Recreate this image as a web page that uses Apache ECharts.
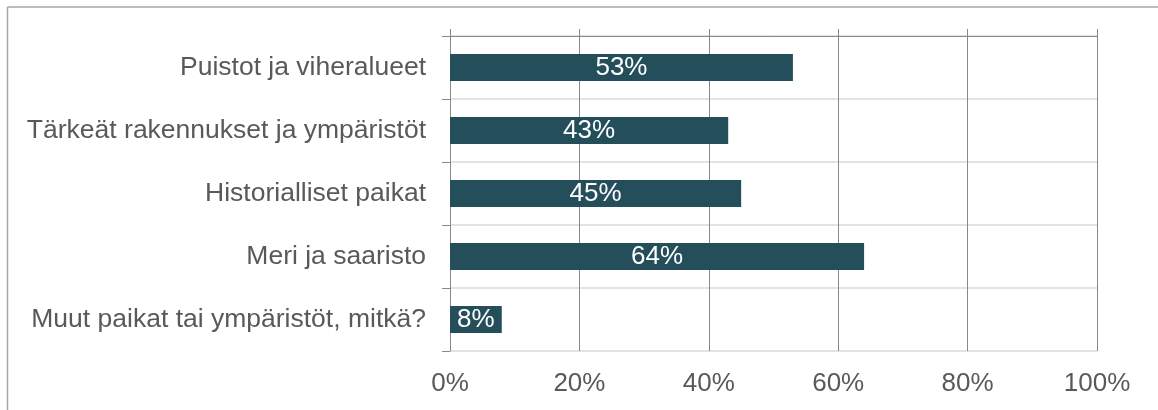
<!DOCTYPE html>
<html>
<head>
<meta charset="utf-8">
<script src="https://cdn.jsdelivr.net/npm/echarts@6/dist/echarts.min.js"></script>
<style>
html,body{margin:0;padding:0;background:#fff;}
#chart{width:1158px;height:410px;}
</style>
</head>
<body>
<div id="chart"></div>
<script>
const categories = [
  "Puistot ja viheralueet",
  "Tärkeät rakennukset ja ympäristöt",
  "Historialliset paikat",
  "Meri ja saaristo",
  "Muut paikat tai ympäristöt, mitkä?"
];
const values = [53, 43, 45, 64, 8];
const xTicks = [0, 20, 40, 60, 80, 100];

const FONT = '"Liberation Sans", Arial, sans-serif';
const chart = echarts.init(document.getElementById('chart'), null, {renderer: 'canvas'});
chart.setOption({
  animation: false,
  textStyle: {fontFamily: FONT},
  graphic: [
    {type: 'line', shape: {x1: 7.5, y1: 7, x2: 1158, y2: 7}, style: {stroke: '#a6a6a6', lineWidth: 1.5}, silent: true},
    {type: 'line', shape: {x1: 7.5, y1: 7, x2: 7.5, y2: 410}, style: {stroke: '#a6a6a6', lineWidth: 1.5}, silent: true}
  ],
  grid: {left: 450, right: 61, top: 36, bottom: 59, containLabel: false},
  xAxis: [
    {
      type: 'value', position: 'bottom',
      min: xTicks[0], max: xTicks[xTicks.length - 1], interval: 20,
      axisLine: {show: false}, axisTick: {show: false},
      axisLabel: {formatter: '{value}%', color: '#595959', fontSize: 26, margin: 20, fontFamily: FONT},
      splitLine: {show: true, lineStyle: {color: '#898989', width: 1}}
    },
    {
      type: 'value', position: 'top',
      min: xTicks[0], max: xTicks[xTicks.length - 1], interval: 20,
      axisLine: {show: true, lineStyle: {color: '#898989', width: 1}},
      axisTick: {show: true, length: 7, lineStyle: {color: '#898989'}},
      axisLabel: {show: false},
      splitLine: {show: false}
    }
  ],
  yAxis: {
    type: 'category', data: categories, inverse: true,
    axisLine: {show: true, lineStyle: {color: '#898989', width: 1}},
    axisTick: {show: true, length: 8, alignWithLabel: false, lineStyle: {color: '#898989'}},
    axisLabel: {color: '#595959', fontSize: 26.5, margin: 24, fontFamily: FONT},
    splitLine: {show: true, lineStyle: {color: '#e3e3e3', width: 2}}
  },
  series: [{
    type: 'bar', data: values, xAxisIndex: 0,
    barWidth: 27,
    itemStyle: {color: '#234e5a'},
    label: {show: true, position: 'inside', formatter: '{c}%', color: '#ffffff', fontSize: 26, fontFamily: FONT}
  }]
});
</script>
</body>
</html>
